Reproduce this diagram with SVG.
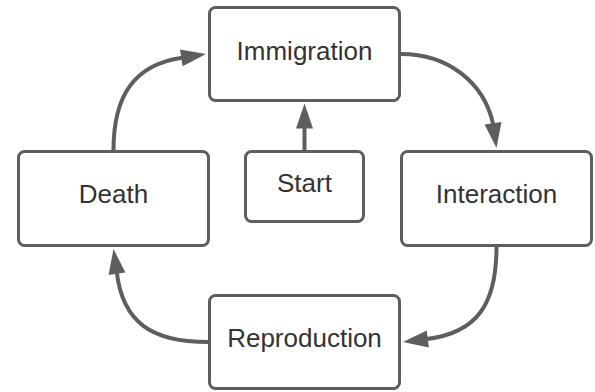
<svg xmlns="http://www.w3.org/2000/svg" xmlns:xlink="http://www.w3.org/1999/xlink" width="595" height="392" viewBox="0 0 595 392">
  <style>
    .box { fill: #ffffff; stroke: #5e5e5e; stroke-width: 3; }
    .lbl { font-family: "Liberation Sans", Arial, sans-serif; font-size: 26px; fill: #333333; text-anchor: middle; }
    .edge { fill: none; stroke: #5e5e5e; stroke-width: 4; }
    .head { fill: #5e5e5e; stroke: none; }
  </style>
  <defs>
    <path id="ah" d="M0,0 L-25,-8.5 L-25,8.5 Z"/>
  </defs>
  <rect width="595" height="392" fill="#ffffff"/>

  <g id="connectors">
    <!-- Death -> Immigration -->
    <path class="edge" d="M113.5,150 C113.5,95.6 134.45,64.32 182.3,57.75"/>
    <use class="head" xlink:href="#ah" href="#ah" transform="translate(206,54) rotate(-9)"/>
    <!-- Immigration -> Interaction -->
    <path class="edge" d="M401,54 C447.75,54 484.03,82.18 493.16,124.24"/>
    <use class="head" xlink:href="#ah" href="#ah" transform="translate(496.5,148) rotate(82)"/>
    <!-- Interaction -> Reproduction -->
    <path class="edge" d="M496.5,247 C496.5,303.95 477.36,332.72 426.82,339.07"/>
    <use class="head" xlink:href="#ah" href="#ah" transform="translate(403,342) rotate(173)"/>
    <!-- Reproduction -> Death -->
    <path class="edge" d="M208,342 C151.9,342 122.9,322.49 116.84,272.76"/>
    <use class="head" xlink:href="#ah" href="#ah" transform="translate(113.5,249) rotate(262)"/>
    <!-- Start -> Immigration -->
    <path class="edge" d="M304.5,150 L304.5,127.5"/>
    <use class="head" xlink:href="#ah" href="#ah" transform="translate(304.5,103.5) rotate(-90)"/>
  </g>

  <g id="immigration">
    <rect class="box" x="209.5" y="7.5" width="190" height="93" rx="6"/>
    <text class="lbl" x="304.5" y="60">Immigration</text>
  </g>
  <g id="death">
    <rect class="box" x="18.5" y="151.5" width="190" height="94" rx="6"/>
    <text class="lbl" x="113.5" y="203">Death</text>
  </g>
  <g id="start">
    <rect class="box" x="245.5" y="151.5" width="118" height="70" rx="6"/>
    <text class="lbl" x="304.5" y="192">Start</text>
  </g>
  <g id="interaction">
    <rect class="box" x="401.5" y="151.5" width="190" height="94" rx="6"/>
    <text class="lbl" x="496.5" y="203">Interaction</text>
  </g>
  <g id="reproduction">
    <rect class="box" x="209.5" y="295.5" width="190" height="93" rx="6"/>
    <text class="lbl" x="304.5" y="347">Reproduction</text>
  </g>
</svg>
